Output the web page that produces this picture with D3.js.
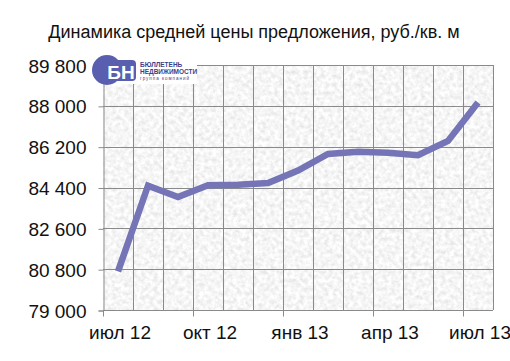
<!DOCTYPE html>
<html>
<head>
<meta charset="utf-8">
<script src="https://cdn.jsdelivr.net/npm/d3@7"></script>
<style>
  html, body { margin: 0; padding: 0; background: #fff; }
  svg text { font-family: "Liberation Sans", Arial, sans-serif; }
</style>
</head>
<body>
<div id="chart"></div>
<script>
// months on the category axis
var months = ['июл 12', 'авг 12', 'сен 12', 'окт 12', 'ноя 12', 'дек 12', 'янв 13',
              'фев 13', 'мар 13', 'апр 13', 'май 13', 'июн 13', 'июл 13'];
// average offer price, rub per sq. m
var prices = [80700, 84480, 83980, 84500, 84520, 84600, 85150,
              85880, 85980, 85930, 85820, 86450, 88150];
var yTicks = [79000, 80800, 82600, 84400, 86200, 88000, 89800];
var xLabels = ['июл 12', 'окт 12', 'янв 13', 'апр 13', 'июл 13'];

var W = 510, H = 361;
var LEFT = 103, RIGHT = 493, TOP = 65, BOTTOM = 310;

var svg = d3.select('#chart').append('svg').attr('width', W).attr('height', H);

// granite-like texture for the plot area
var defs = svg.append('defs');
var filt = defs.append('filter').attr('id', 'granite')
    .attr('x', 0).attr('y', 0).attr('width', 1).attr('height', 1);
filt.append('feTurbulence').attr('type', 'fractalNoise')
    .attr('baseFrequency', 0.24).attr('numOctaves', 3).attr('seed', 7).attr('result', 'n');
filt.append('feColorMatrix').attr('type', 'matrix')
    .attr('values', '0.4 0 0 0 0.72  0.4 0 0 0 0.72  0.4 0 0 0 0.72  0 0 0 0 1');

var x = d3.scaleBand().domain(months).range([LEFT, RIGHT]).paddingInner(0).paddingOuter(0);
var y = d3.scaleLinear().domain([79000, 89800]).range([BOTTOM, TOP]);
var fmt = d3.formatLocale({ decimal: ',', thousands: '\u00a0', grouping: [3], currency: ['', ''] }).format(',d');

// title
svg.append('text').attr('x', 254).attr('y', 38).attr('text-anchor', 'middle')
    .style('font-size', '18px').style('fill', '#111')
    .text('Динамика средней цены предложения, руб./кв. м');

// background
svg.append('rect').attr('x', LEFT).attr('y', TOP)
    .attr('width', RIGHT - LEFT).attr('height', BOTTOM - TOP)
    .attr('fill', '#eaeaea').attr('filter', 'url(#granite)');

// grid
var grid = svg.append('g').attr('stroke', '#8a8a8a').attr('stroke-width', 1);
grid.selectAll('line.h').data(yTicks).enter().append('line')
    .attr('x1', LEFT).attr('x2', RIGHT)
    .attr('y1', function (d) { return Math.round(y(d)) + 0.5; })
    .attr('y2', function (d) { return Math.round(y(d)) + 0.5; });
grid.selectAll('line.v').data(months.slice(1).concat(['end'])).enter().append('line')
    .attr('x1', function (d, i) { return LEFT + (i + 1) * x.bandwidth() + 0.5; })
    .attr('x2', function (d, i) { return LEFT + (i + 1) * x.bandwidth() + 0.5; })
    .attr('y1', TOP).attr('y2', BOTTOM);

// y axis
var yAxis = svg.append('g').attr('transform', 'translate(' + (LEFT + 0.5) + ',0.5)')
    .call(d3.axisLeft(y).tickValues(yTicks).tickFormat(fmt).tickSize(5).tickPadding(12));
yAxis.select('.domain').attr('stroke', '#8a8a8a');
yAxis.selectAll('.tick line').attr('stroke', '#8a8a8a');
yAxis.selectAll('.tick text').style('font-size', '19px').attr('dy', '0.35em').style('fill', '#111');

// x axis, major tick every 3 months on category boundaries
var xAxis = svg.append('g').attr('transform', 'translate(0,' + (BOTTOM + 0.5) + ')');
xAxis.append('line').attr('x1', LEFT).attr('x2', RIGHT).attr('stroke', '#8a8a8a');
xAxis.selectAll('line.t').data(xLabels).enter().append('line')
    .attr('x1', function (d) { return x(d) + 0.5; })
    .attr('x2', function (d) { return x(d) + 0.5; })
    .attr('y1', 0).attr('y2', 6).attr('stroke', '#8a8a8a');
xAxis.selectAll('text').data(xLabels).enter().append('text')
    .attr('x', function (d) { return x(d) + x.bandwidth() / 2 + 2; })
    .attr('y', 28).attr('text-anchor', 'middle')
    .style('font-size', '19px').style('fill', '#111').text(function (d) { return d; });

// price line
var line = d3.line()
    .x(function (d, i) { return x(months[i]) + x.bandwidth() / 2; })
    .y(function (d) { return y(d); });
svg.append('path').datum(prices).attr('d', line)
    .attr('fill', 'none').attr('stroke', '#7474b6').attr('stroke-width', 6.5)
    .attr('stroke-linejoin', 'miter').attr('stroke-linecap', 'butt');

// logo
var logo = svg.append('g');
logo.append('rect').attr('x', 100).attr('y', 54).attr('width', 97).attr('height', 30).attr('fill', '#fff');
logo.append('circle').attr('cx', 107).attr('cy', 70).attr('r', 15).attr('fill', '#5a5eae');
logo.append('rect').attr('x', 107).attr('y', 60).attr('width', 29).attr('height', 21)
    .attr('rx', 4).attr('fill', '#5a5eae');
logo.append('text').attr('x', 121).attr('y', 79).attr('text-anchor', 'middle')
    .style('font-size', '19px').style('font-weight', 'bold').style('fill', '#fff').text('БН');
logo.append('text').attr('x', 140).attr('y', 67).style('font-size', '6.5px').style('font-weight', 'bold')
    .style('fill', '#3c3f8c').text('БЮЛЛЕТЕНЬ');
logo.append('text').attr('x', 140).attr('y', 74).style('font-size', '6.5px').style('font-weight', 'bold')
    .style('fill', '#3c3f8c').text('НЕДВИЖИМОСТИ');
logo.append('text').attr('x', 140).attr('y', 80).style('font-size', '4.5px')
    .style('fill', '#3c3f8c').attr('letter-spacing', 1).text('группа компаний');
</script>
</body>
</html>
